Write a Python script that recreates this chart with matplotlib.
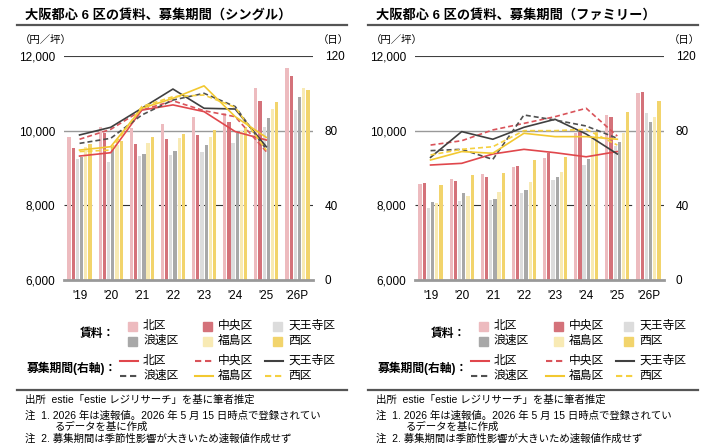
import matplotlib
matplotlib.use("Agg")
import matplotlib.pyplot as plt
import numpy as np
from matplotlib.patches import Rectangle
from matplotlib.lines import Line2D

plt.rcParams["font.family"] = ["Liberation Sans", "Noto Sans CJK JP"]

# data
years = ["'19", "'20", "'21", "'22", "'23", "'24", "'25", "'26P"]
wards = ["北区", "中央区", "天王寺区", "浪速区", "福島区", "西区"]

# rent (yen / tsubo), single
single_rent = {
    "北区":     [9830, 10090, 10060, 10170, 10360, 10470, 11130, 11670],
    "中央区":   [9540, 9930, 9640, 9770, 9880, 10240, 10800, 11470],
    "天王寺区": [9240, 9170, 9320, 9350, 9440, 9670, 10110, 10550],
    "浪速区":   [9290, 9570, 9380, 9460, 9620, 9930, 10330, 10890],
    "福島区":   [9550, 9620, 9660, 9800, 9820, 10000, 10590, 11130],
    "西区":     [9650, 9730, 9820, 9910, 10020, 10110, 10770, 11090],
}
# listing period (days), single, '19-'25
single_days = {
    "北区":     [66.4, 68.2, 91.0, 93.8, 90.2, 79.5, 75.0],
    "中央区":   [75.4, 80.7, 91.0, 96.0, 90.7, 87.5, 68.8],
    "天王寺区": [77.7, 81.8, 92.0, 102.3, 92.0, 91.6, 71.4],
    "浪速区":   [73.2, 75.9, 88.4, 96.4, 100.0, 92.9, 70.0],
    "福島区":   [69.6, 71.4, 92.0, 97.3, 104.0, 87.5, 76.4],
    "西区":     [68.8, 69.6, 92.9, 98.2, 99.1, 92.5, 69.6],
}

family_rent = {
    "北区":     [8570, 8700, 8840, 9040, 9260, 9930, 10420, 11020],
    "中央区":   [8610, 8660, 8770, 9060, 9390, 9970, 10370, 11040],
    "天王寺区": [7920, 8120, 8140, 8320, 8680, 9080, 9600, 10460],
    "浪速区":   [8100, 8320, 8160, 8410, 8770, 9230, 9700, 10240],
    "福島区":   [8050, 8250, 8370, 8630, 8900, 9840, 9930, 10360],
    "西区":     [8550, 8810, 8860, 9210, 9300, 9970, 10510, 10800],
}
family_days = {
    "北区":     [61.6, 62.5, 67.5, 70.0, 68.2, 66.0, 68.8],
    "中央区":   [72.3, 74.6, 80.4, 83.9, 87.5, 92.0, 77.1],
    "天王寺区": [65.7, 79.5, 75.4, 81.8, 86.1, 78.2, 67.5],
    "浪速区":   [69.3, 70.0, 64.6, 88.4, 85.7, 82.5, 75.9],
    "福島区":   [64.3, 68.8, 67.9, 78.6, 76.8, 76.8, 75.4],
    "西区":     [67.0, 70.0, 71.4, 80.0, 80.0, 80.7, 72.3],
}

bar_colors = {
    "北区": "#EDBBBF", "中央区": "#D4727A", "天王寺区": "#DCDCDC",
    "浪速区": "#A8A8A8", "福島区": "#F8EAB4", "西区": "#F2D46C",
}
line_styles = {
    "北区": ("#E0474C", "-"), "中央区": ("#D9535A", "--"),
    "天王寺区": ("#404040", "-"), "浪速区": ("#505050", "--"),
    "福島区": ("#F2C830", "-"), "西区": ("#F5D040", "--"),
}

W, H = 715, 448
fig = plt.figure(figsize=(W / 100, H / 100), dpi=100)


def fx(px):
    return px / W


def fy(py):
    return 1 - py / H


def draw_panel(x0, title, rent, days):
    # header
    fig.text(fx(x0 + 25), fy(15), title, fontsize=9.5, fontweight="bold",
             va="center", ha="left")
    fig.add_artist(Line2D([fx(x0 + 17), fx(x0 + 347)], [fy(25), fy(25)],
                          color="#555555", lw=1.6))
    fig.text(fx(x0 + 20), fy(40), "（円／坪）", fontsize=7.5, va="center")
    fig.text(fx(x0 + 318), fy(40), "（日）", fontsize=7.5, va="center")

    ax = fig.add_axes([fx(x0 + 64), fy(280), 249 / W, 224 / H])
    ax2 = ax.twinx()
    x = np.arange(len(years))
    pitch, width = 0.135, 0.105
    for k, w in enumerate(wards):
        ax.bar(x + (k - 2.5) * pitch, np.array(rent[w]) - 6000, bottom=6000,
               width=width, color=bar_colors[w], zorder=2)
    for w in wards:
        c, ls = line_styles[w]
        ax2.plot(x[:len(days[w])], days[w], color=c, lw=1.2,
                 linestyle=(0, (3, 1.8)) if ls == "--" else "-", zorder=3)

    ax.set_xlim(-0.5, len(years) - 0.5)
    ax.set_ylim(6000, 12000)
    ax2.set_ylim(0, 120)
    ax.axhline(12000, color="#404040", lw=0.8, zorder=1)
    ax.axhline(10000, color="#999999", lw=1.0, zorder=1)
    ax.axhline(8000, color="#333333", lw=0.8, linestyle=(0, (8, 9)), zorder=1)
    ax.axhline(6000, color="#999999", lw=2.0, zorder=4, clip_on=False)

    ax.set_yticks([6000, 8000, 10000, 12000])
    ax.set_yticklabels([f"{v:,}" for v in [6000, 8000, 10000, 12000]])
    ax2.set_yticks([0, 40, 80, 120])
    ax.set_xticks(x)
    ax.set_xticklabels(years)
    ax.tick_params(axis="y", length=0, pad=6.5, labelsize=8.5)
    ax.tick_params(axis="x", length=0, pad=7, labelsize=8.5)
    ax2.tick_params(axis="y", length=0, pad=8.5, labelsize=8.5)
    for a in (ax, ax2):
        for s in a.spines.values():
            s.set_visible(False)
        a.patch.set_visible(False)

    # legend
    fig.text(fx(x0 + 115), fy(334), "賃料：", fontsize=8.5, fontweight="bold",
             ha="right", va="center")
    fig.text(fx(x0 + 117), fy(368), "募集期間(右軸)：", fontsize=8.5,
             fontweight="bold", ha="right", va="center")
    cols = [x0 + 128, x0 + 203, x0 + 273]
    rows = [326, 341]
    lrows = [361, 376]
    for k, w in enumerate(wards):
        cx = cols[k % 3]
        ry = rows[k // 3]
        fig.add_artist(Rectangle((fx(cx), fy(ry + 5)), 9 / W, 9 / H,
                                 color=bar_colors[w], transform=fig.transFigure))
        fig.text(fx(cx + 15), fy(ry), w, fontsize=8.5, va="center")
        ly = lrows[k // 3]
        c, ls = line_styles[w]
        fig.add_artist(Line2D([fx(cx - 8), fx(cx + 10)], [fy(ly), fy(ly)],
                              color=c, lw=1.5,
                              linestyle=(0, (3, 1.8)) if ls == "--" else "-"))
        fig.text(fx(cx + 15), fy(ly), w, fontsize=8.5, va="center")

    fig.add_artist(Line2D([fx(x0 + 17), fx(x0 + 347)], [fy(390), fy(390)],
                          color="#555555", lw=1.6))
    fig.text(fx(x0 + 25), fy(400), "出所  estie「estie レジリサーチ」を基に筆者推定",
             fontsize=7.5, va="center")
    fig.text(fx(x0 + 25), fy(416), "注  1. 2026 年は速報値。2026 年 5 月 15 日時点で登録されてい",
             fontsize=7.5, va="center")
    fig.text(fx(x0 + 55), fy(427), "るデータを基に作成", fontsize=7.5, va="center")
    fig.text(fx(x0 + 25), fy(439), "注  2. 募集期間は季節性影響が大きいため速報値作成せず",
             fontsize=7.5, va="center")


draw_panel(0, "大阪都心 6 区の賃料、募集期間（シングル）", single_rent, single_days)
draw_panel(351, "大阪都心 6 区の賃料、募集期間（ファミリー）", family_rent, family_days)

fig.savefig("out.png", dpi=100)
